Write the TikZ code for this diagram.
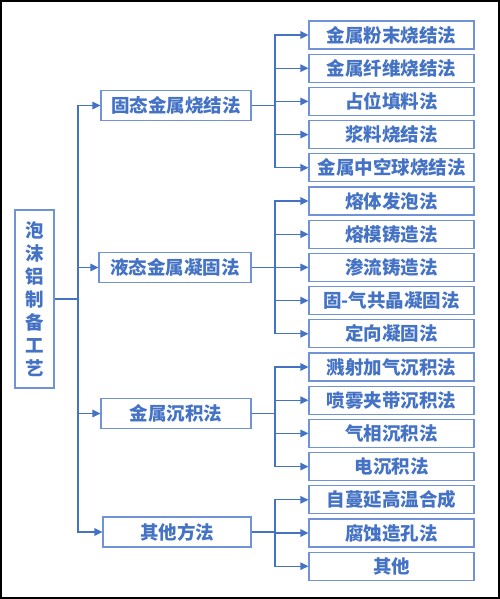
\documentclass[tikz,border=0pt]{standalone}
\usepackage{fontspec}
\setmainfont{Noto Sans CJK SC}
\usetikzlibrary{arrows.meta}
\definecolor{tblue}{HTML}{4472C4}
\definecolor{bblue}{HTML}{6F93D6}
\begin{document}
\begin{tikzpicture}[x=1pt,y=-1pt,
  box/.style={draw=bblue,line width=1.1pt,text=tblue,inner sep=0pt,font=\fontsize{18.5}{23}\selectfont\bfseries},
  lone/.style={box,minimum height=30pt},
  ltwo/.style={box,minimum width=165pt,minimum height=28pt},
  conn/.style={draw=tblue,line width=1.1pt},
  arr/.style={conn,-{Triangle[length=8pt,width=7.5pt]}}]
\useasboundingbox (0,0) rectangle (500,599);
\draw[black,line width=2.2pt] (1.1,1.1) rectangle (498.9,597.9);
% root
\node[box,minimum width=39pt,minimum height=178pt,align=center] (root) at (34.5,299) {泡\\沫\\铝\\制\\备\\工\\艺};
% level one
\node[lone,minimum width=150pt] (a) at (176,105.5) {固态金属烧结法};
\node[lone,minimum width=152pt] (b) at (175,267.5) {液态金属凝固法};
\node[lone,minimum width=150pt] (c) at (176,413.5) {金属沉积法};
\node[lone,minimum width=148pt] (d) at (177,532) {其他方法};
% level two
\node[ltwo] (a1) at (391.5,35) {金属粉末烧结法};
\node[ltwo] (a2) at (391.5,68.2) {金属纤维烧结法};
\node[ltwo] (a3) at (391.5,101.4) {占位填料法};
\node[ltwo] (a4) at (391.5,134.6) {浆料烧结法};
\node[ltwo] (a5) at (391.5,167.8) {金属中空球烧结法};
\node[ltwo] (b1) at (391.5,201) {熔体发泡法};
\node[ltwo] (b2) at (391.5,234.2) {熔模铸造法};
\node[ltwo] (b3) at (391.5,267.4) {渗流铸造法};
\node[ltwo] (b4) at (391.5,300.6) {固-气共晶凝固法};
\node[ltwo] (b5) at (391.5,333.8) {定向凝固法};
\node[ltwo] (c1) at (391.5,367) {溅射加气沉积法};
\node[ltwo] (c2) at (391.5,400.2) {喷雾夹带沉积法};
\node[ltwo] (c3) at (391.5,433.4) {气相沉积法};
\node[ltwo] (c4) at (391.5,466.6) {电沉积法};
\node[ltwo] (d1) at (391.5,499.8) {自蔓延高温合成};
\node[ltwo] (d2) at (391.5,533) {腐蚀造孔法};
\node[ltwo] (d3) at (391.5,566.2) {其他};
% trunk
\coordinate (t) at (78,299);
\draw[conn] (root.east) -- (t);
\foreach \n in {a,b,c,d} \draw[arr] (t) |- (\n.west);
% branches
\coordinate (ja) at (275,105.5);
\coordinate (jb) at (275,267.5);
\coordinate (jc) at (275,413.5);
\coordinate (jd) at (275,532);
\foreach \g/\list in {a/{1,2,3,4,5},b/{1,2,3,4,5},c/{1,2,3,4},d/{1,2,3}}{
  \draw[conn] (\g.east) -- (j\g);
  \foreach \i in \list \draw[arr] (j\g) |- (\g\i.west);
}
\end{tikzpicture}
\end{document}
